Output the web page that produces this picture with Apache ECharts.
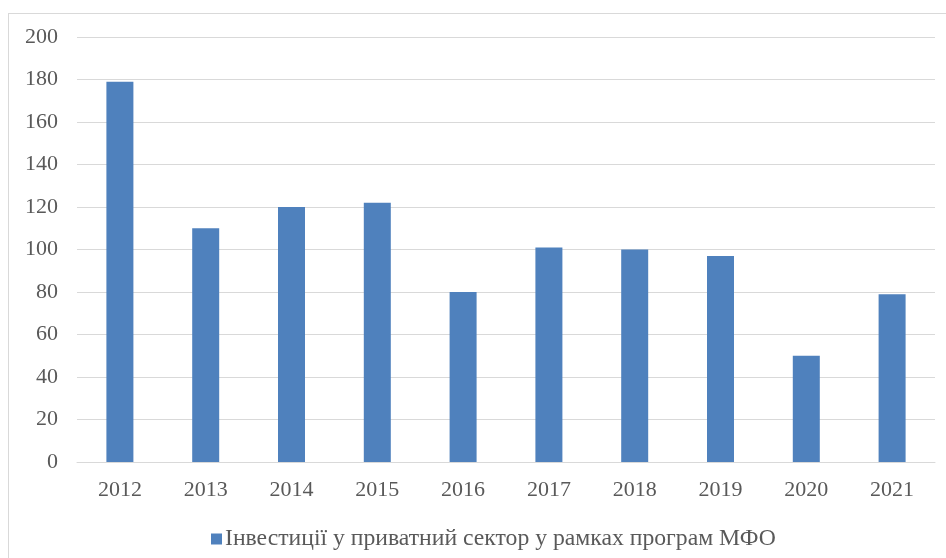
<!DOCTYPE html>
<html>
<head>
<meta charset="utf-8">
<script src="https://cdn.jsdelivr.net/npm/echarts@6/dist/echarts.min.js"></script>
<style>
html, body { margin: 0; padding: 0; background: #fff; }
#frame { position: absolute; left: 8px; top: 13px; width: 946px; height: 560px; border: 1px solid #d9d9d9; box-sizing: border-box; }
#container { position: absolute; left: 0; top: 0; width: 946px; height: 558px; }
</style>
</head>
<body>
<div id="frame"></div>
<div id="container"></div>
<script>
// роки та значення
var years = ['2012', '2013', '2014', '2015', '2016', '2017', '2018', '2019', '2020', '2021'];
var investValues = [179, 110, 120, 122, 80, 101, 100, 97, 50, 79];
var seriesName = 'Інвестиції у приватний сектор у рамках програм МФО';

var myChart = echarts.init(document.getElementById('container'));
var font = '"Liberation Serif", "Times New Roman", serif';
var option = {
	animation: false,
	legend: {
		data: [{ name: seriesName, icon: 'rect' }],
		left: 206,
		top: 522,
		itemWidth: 11,
		itemHeight: 11,
		itemGap: 4,
		textStyle: { fontFamily: font, fontSize: 23.7, color: '#595959', padding: [0, 0, 0, -2] }
	},
	grid: {
		left: 77,
		right: 11,
		top: 37,
		bottom: 96,
		containLabel: false
	},
	xAxis: {
		type: 'category',
		data: years,
		axisLine: { lineStyle: { color: '#d9d9d9', width: 1 } },
		axisTick: { show: false },
		axisLabel: { fontFamily: font, fontSize: 22, color: '#595959', margin: 17 }
	},
	yAxis: {
		type: 'value',
		min: 0,
		max: 200,
		interval: 20,
		axisLine: { show: false },
		axisTick: { show: false },
		splitLine: { lineStyle: { color: '#d9d9d9', width: 1 } },
		axisLabel: { fontFamily: font, fontSize: 22, color: '#595959', margin: 19 }
	},
	series: [{
		name: seriesName,
		type: 'bar',
		data: investValues,
		barWidth: 27,
		itemStyle: { color: '#4f81bd' }
	}]
};
myChart.setOption(option);
</script>
</body>
</html>
